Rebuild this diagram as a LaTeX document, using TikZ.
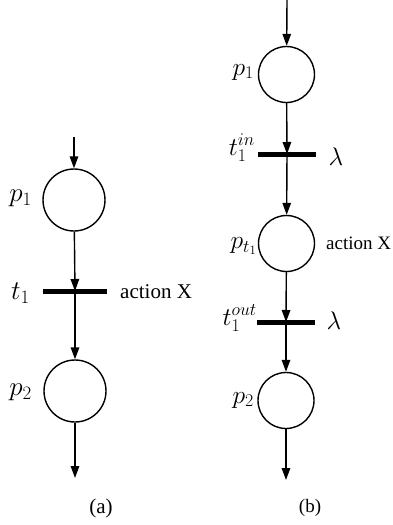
\RequirePackage{fix-cm}
\documentclass[tikz,border=0pt]{standalone}
\usepackage{fontspec}
\setmainfont{Liberation Serif}
\usetikzlibrary{arrows.meta}
\newcommand{\mathA}[1]{{\fontsize{27}{30}\selectfont$#1$}}
\newcommand{\mathB}[1]{{\fontsize{25.5}{29}\selectfont$#1$}}
\begin{document}
\begin{tikzpicture}[x=1pt,y=-1pt,
  place/.style={draw,circle,line width=1.4pt,inner sep=0pt},
  bigplace/.style={place,minimum size=62pt},
  smallplace/.style={place,minimum size=56pt},
  trans/.style={fill=black,inner sep=0pt,minimum height=5pt},
  lbl/.style={inner sep=0pt,font=\fontsize{21}{25}\selectfont},
  slbl/.style={inner sep=0pt,font=\fontsize{19}{23}\selectfont},
  arc/.style={line width=1.4pt,-{Triangle[length=12pt,width=8.5pt]}}]
\useasboundingbox (0,0) rectangle (392,525);
% (a)
\coordinate (ain) at (74,137);
\node[bigplace] (ap1) at (74,200) {};
\node[trans,minimum width=64pt] (at1) at (75,291) {};
\node[bigplace] (ap2) at (75,391) {};
\coordinate (aout) at (75,478);
\draw[arc] (ain) -- (ap1);
\draw[arc] (ap1) -- (at1.center);
\draw[arc] (at1.center) -- (ap2);
\draw[arc] (ap2) -- (aout);
\node[lbl,anchor=east] (lap1) at (32,198) {\mathA{p_1}};
\node[lbl,anchor=base east] (lat1) at (30,299) {\mathA{t_1}};
\node[lbl,anchor=west] (lax) at (120,292) {action X};
\node[lbl,anchor=east] (lap2) at (32,392) {\mathA{p_2}};
\node[lbl] (capa) at (101,508) {(a)};
% (b)
\coordinate (bin) at (287,0);
\node[smallplace] (bp1) at (286.5,74.5) {};
\node[trans,minimum width=58pt] (btin) at (287,154) {};
\node[smallplace] (bpt) at (286.5,243.5) {};
\node[trans,minimum width=58pt] (btout) at (286,322) {};
\node[smallplace] (bp2) at (286,400.5) {};
\coordinate (bout) at (286,480);
\draw[arc] (bin) -- (bp1);
\draw[arc] (bp1) -- (btin.center);
\draw[arc] (btin.center) -- (bpt);
\draw[arc] (bpt) -- (btout.center);
\draw[arc] (btout.center) -- (bp2);
\draw[arc] (bp2) -- (bout);
\node[slbl,anchor=east] (lbp1) at (254,72) {\mathB{p_1}};
\node[slbl,anchor=base east] (lbtin) at (255,155) {\mathB{t_1^{in}}};
\node[slbl] (lam1) at (336,157) {\mathB{\lambda}};
\node[slbl,anchor=east] (lbpt) at (257,246) {\mathB{p_{t_1}}};
\node[slbl,anchor=west] (lbx) at (326,243.5) {action X};
\node[slbl,anchor=base east] (lbtout) at (257,325) {\mathB{t_1^{out}}};
\node[slbl] (lam2) at (334,321) {\mathB{\lambda}};
\node[slbl,anchor=east] (lbp2) at (254,400) {\mathB{p_2}};
\node[slbl] (capb) at (310,508) {(b)};
\end{tikzpicture}
\end{document}
